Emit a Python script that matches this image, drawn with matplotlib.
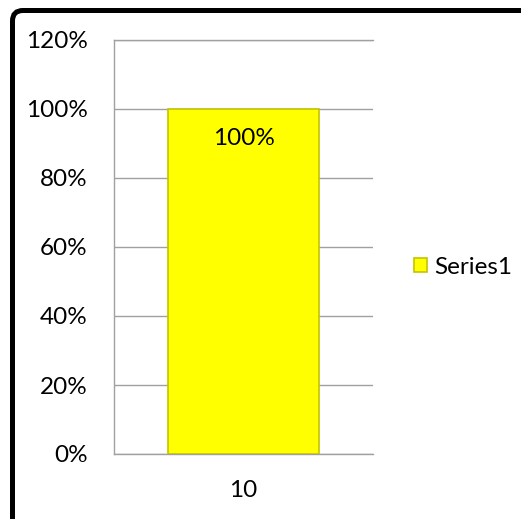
import matplotlib
matplotlib.use("Agg")
import matplotlib.pyplot as plt
from matplotlib.patches import FancyBboxPatch
from matplotlib.ticker import PercentFormatter

# data
categories = ["10"]
values = [1.0]
series_name = "Series1"
y_ticks = [0, 0.2, 0.4, 0.6, 0.8, 1.0, 1.2]

W, H = 521, 519
plt.rcParams['font.family'] = ['Lato', 'DejaVu Sans']
fs = 17.5

fig = plt.figure(figsize=(W / 100, H / 100), dpi=100)
ax = fig.add_axes([114 / W, 1 - 454 / H, 259 / W, 414 / H])

grid_col = "#a0a0a0"
x = list(range(len(categories)))
bars = ax.bar(x, values, width=0.58, color="#ffff00", edgecolor="#c4c400",
              linewidth=1.2, label=series_name, zorder=3)

# value label sitting inside the top of the bar
for xi, v in zip(x, values):
    ax.annotate(f"{v:.0%}", xy=(xi, v), xytext=(0, -21), textcoords="offset points",
                ha="center", va="center", fontsize=fs, color="black", zorder=4)

ax.set_xlim(-0.5, len(categories) - 0.5)
ax.set_ylim(0, 1.2)
ax.set_yticks(y_ticks)
ax.yaxis.set_major_formatter(PercentFormatter(1.0, decimals=0))
ax.set_xticks(x)
ax.set_xticklabels(categories)
ax.tick_params(axis="y", length=0, pad=19, labelsize=fs)
ax.tick_params(axis="x", length=0, pad=19, labelsize=fs)
ax.grid(axis="y", color=grid_col, linewidth=1.0, zorder=0)

for side in ["left", "bottom", "top"]:
    ax.spines[side].set_color(grid_col)
    ax.spines[side].set_linewidth(1.0)
ax.spines["right"].set_visible(False)

ax.legend(loc="center left", bbox_to_anchor=(414 / W, 1 - 267 / H),
          bbox_transform=fig.transFigure, frameon=False, fontsize=fs,
          handlelength=0.55, handleheight=0.55, handletextpad=0.3,
          borderpad=0, borderaxespad=0)

# thick black frame, only top and left visible in the crop
frame = FancyBboxPatch((12.5 / W, -0.2), 1.3, (H - 10.5) / H + 0.2,
                       boxstyle="round,pad=0,rounding_size=0.02",
                       transform=fig.transFigure, fill=False,
                       edgecolor="black", linewidth=3.6, clip_on=False)
fig.patches.append(frame)

fig.savefig("out.png", dpi=100)
